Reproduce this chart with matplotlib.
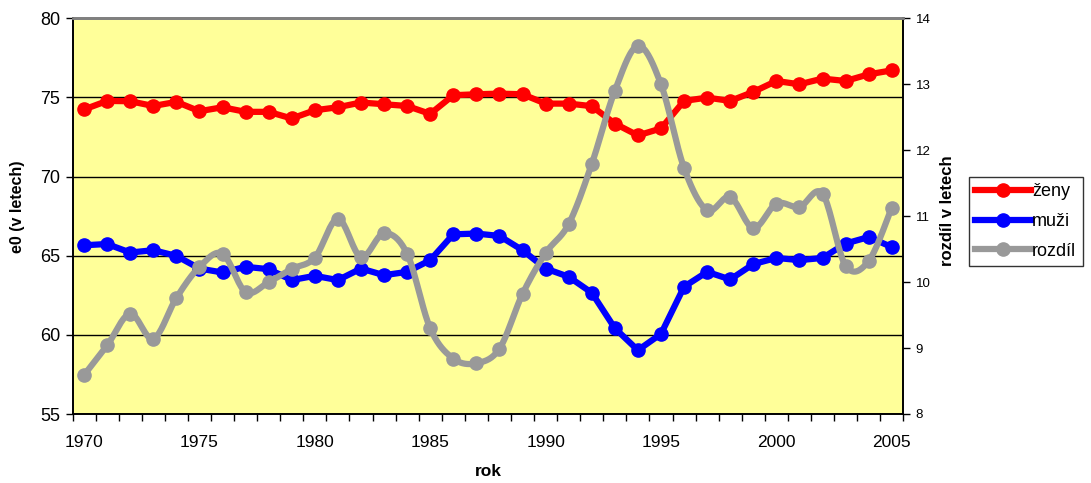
import numpy as np
import matplotlib
matplotlib.use("Agg")
import matplotlib.pyplot as plt
from matplotlib.lines import Line2D

years = list(range(1970, 2006))
zeny = [74.24, 74.78, 74.76, 74.46, 74.72, 74.13, 74.38, 74.09, 74.09, 73.67,
        74.19, 74.38, 74.68, 74.57, 74.46, 73.96, 75.14, 75.20, 75.24, 75.20,
        74.61, 74.61, 74.45, 73.35, 72.60, 73.04, 74.78, 74.99, 74.78, 75.35,
        76.04, 75.83, 76.19, 76.04, 76.46, 76.71]
muzi = [65.66, 65.74, 65.20, 65.35, 64.99, 64.19, 63.94, 64.30, 64.15, 63.46,
        63.73, 63.46, 64.19, 63.77, 63.98, 64.72, 66.35, 66.40, 66.25, 65.35,
        64.19, 63.67, 62.66, 60.42, 59.03, 60.06, 63.04, 63.98, 63.50, 64.47,
        64.86, 64.72, 64.86, 65.77, 66.18, 65.55]
rozdil = [8.59, 9.04, 9.52, 9.14, 9.76, 10.23, 10.43, 9.85, 10.00, 10.20,
          10.37, 10.96, 10.38, 10.74, 10.43, 9.30, 8.84, 8.77, 8.99, 9.82,
          10.44, 10.88, 11.79, 12.90, 13.58, 13.00, 11.73, 11.09, 11.29, 10.82,
          11.19, 11.14, 11.34, 10.25, 10.32, 11.13]
series_names = ["ženy", "muži", "rozdíl"]
series_colors = ["#FF0000", "#0000FF", "#999999"]
x_labels = ["1970", "1975", "1980", "1985", "1990", "1995", "2000", "2005"]

plt.rcParams['font.family'] = ['Liberation Sans', 'DejaVu Sans']

W, H = 1091, 483
fig = plt.figure(figsize=(W / 100, H / 100), dpi=100)
L, R, T, B = 72.5, 903.3, 18.3, 414
ax = fig.add_axes([L / W, 1 - B / H, (R - L) / W, (B - T) / H])
ax.set_facecolor('#FFFF99')
ax2 = ax.twinx()

xs = np.array(years, dtype=float)
lw = 4.5
ms = 9.5

ax.plot(xs, zeny, color=series_colors[0], lw=lw, marker='o', ms=ms,
        solid_joinstyle='round', solid_capstyle='round', zorder=3)
ax.plot(xs, muzi, color=series_colors[1], lw=lw, marker='o', ms=ms,
        solid_joinstyle='round', solid_capstyle='round', zorder=3)


def catmull_rom(x, y, n=20):
    x = np.asarray(x, float)
    y = np.asarray(y, float)
    px = np.concatenate([[x[0]], x, [x[-1]]])
    py = np.concatenate([[y[0]], y, [y[-1]]])
    outx, outy = [], []
    t = np.linspace(0, 1, n, endpoint=False)
    for i in range(1, len(px) - 2):
        p0x, p1x, p2x, p3x = px[i - 1], px[i], px[i + 1], px[i + 2]
        p0y, p1y, p2y, p3y = py[i - 1], py[i], py[i + 1], py[i + 2]
        c1x, c1y = p1x + (p2x - p0x) / 6, p1y + (p2y - p0y) / 6
        c2x, c2y = p2x - (p3x - p1x) / 6, p2y - (p3y - p1y) / 6
        bx = (1 - t) ** 3 * p1x + 3 * (1 - t) ** 2 * t * c1x + 3 * (1 - t) * t ** 2 * c2x + t ** 3 * p2x
        by = (1 - t) ** 3 * p1y + 3 * (1 - t) ** 2 * t * c1y + 3 * (1 - t) * t ** 2 * c2y + t ** 3 * p2y
        outx.extend(bx)
        outy.extend(by)
    outx.append(x[-1])
    outy.append(y[-1])
    return np.array(outx), np.array(outy)


sx, sy = catmull_rom(xs, rozdil)
ax2.plot(sx, sy, color=series_colors[2], lw=lw, solid_joinstyle='round',
         solid_capstyle='round', zorder=3)
ax2.plot(xs, rozdil, color=series_colors[2], lw=0, marker='o', ms=ms, zorder=4)

# axes limits
ax.set_xlim(years[0] - 0.5, years[-1] + 0.5)
ax.set_ylim(55, 80)
ax2.set_ylim(8, 14)

# x ticks: marks at category boundaries, labels at every 5th category
bounds = np.arange(years[0] - 0.5, years[-1] + 1.0, 1.0)
ax.set_xticks(bounds)
ax.set_xticklabels([])
ax.set_xticks([int(v) for v in x_labels], minor=True)
ax.set_xticklabels(x_labels, minor=True)
ax.tick_params(axis='x', which='major', direction='out', length=5, width=1, color='black')
ax.tick_params(axis='x', which='minor', length=0, pad=15, labelsize=12.5)

ax.set_yticks([55, 60, 65, 70, 75, 80])
ax.tick_params(axis='y', direction='out', length=5, width=1, labelsize=13, pad=4)
ax2.set_yticks([8, 9, 10, 11, 12, 13, 14])
ax2.tick_params(axis='y', direction='out', length=5, width=1, labelsize=9.5, pad=4)

ax.yaxis.grid(True, color='black', lw=1)
ax.set_axisbelow(True)

for a in (ax, ax2):
    a.spines['top'].set_color('#808080')
    a.spines['top'].set_linewidth(2)
    a.spines['left'].set_color('black')
    a.spines['left'].set_linewidth(1.2)
    a.spines['right'].set_color('black')
    a.spines['right'].set_linewidth(1.2)
    a.spines['bottom'].set_color('black')
    a.spines['bottom'].set_linewidth(1.2)

fig.text((L + R) / 2 / W, 1 - 472 / H, "rok", fontsize=12.5, fontweight='bold',
         ha='center', va='center')
fig.text(18 / W, 1 - 207 / H, "e0 (v letech)", rotation=90, fontsize=11.5,
         fontweight='bold', ha='center', va='center')
fig.text(947 / W, 1 - 211 / H, "rozdíl v letech", rotation=90, fontsize=12,
         fontweight='bold', ha='center', va='center')

handles = [Line2D([0], [0], color=c, lw=lw, marker='o', ms=ms) for c in series_colors]
leg = fig.legend(handles, series_names, loc='upper left',
                 bbox_to_anchor=(969 / W, 1 - 177 / H), fontsize=13,
                 frameon=True, fancybox=False, edgecolor='black',
                 handlelength=3.1, handletextpad=0.05, labelspacing=0.7,
                 borderpad=0.35, borderaxespad=0)
leg.get_frame().set_linewidth(1)

fig.savefig("out.png", dpi=100, facecolor='white')
